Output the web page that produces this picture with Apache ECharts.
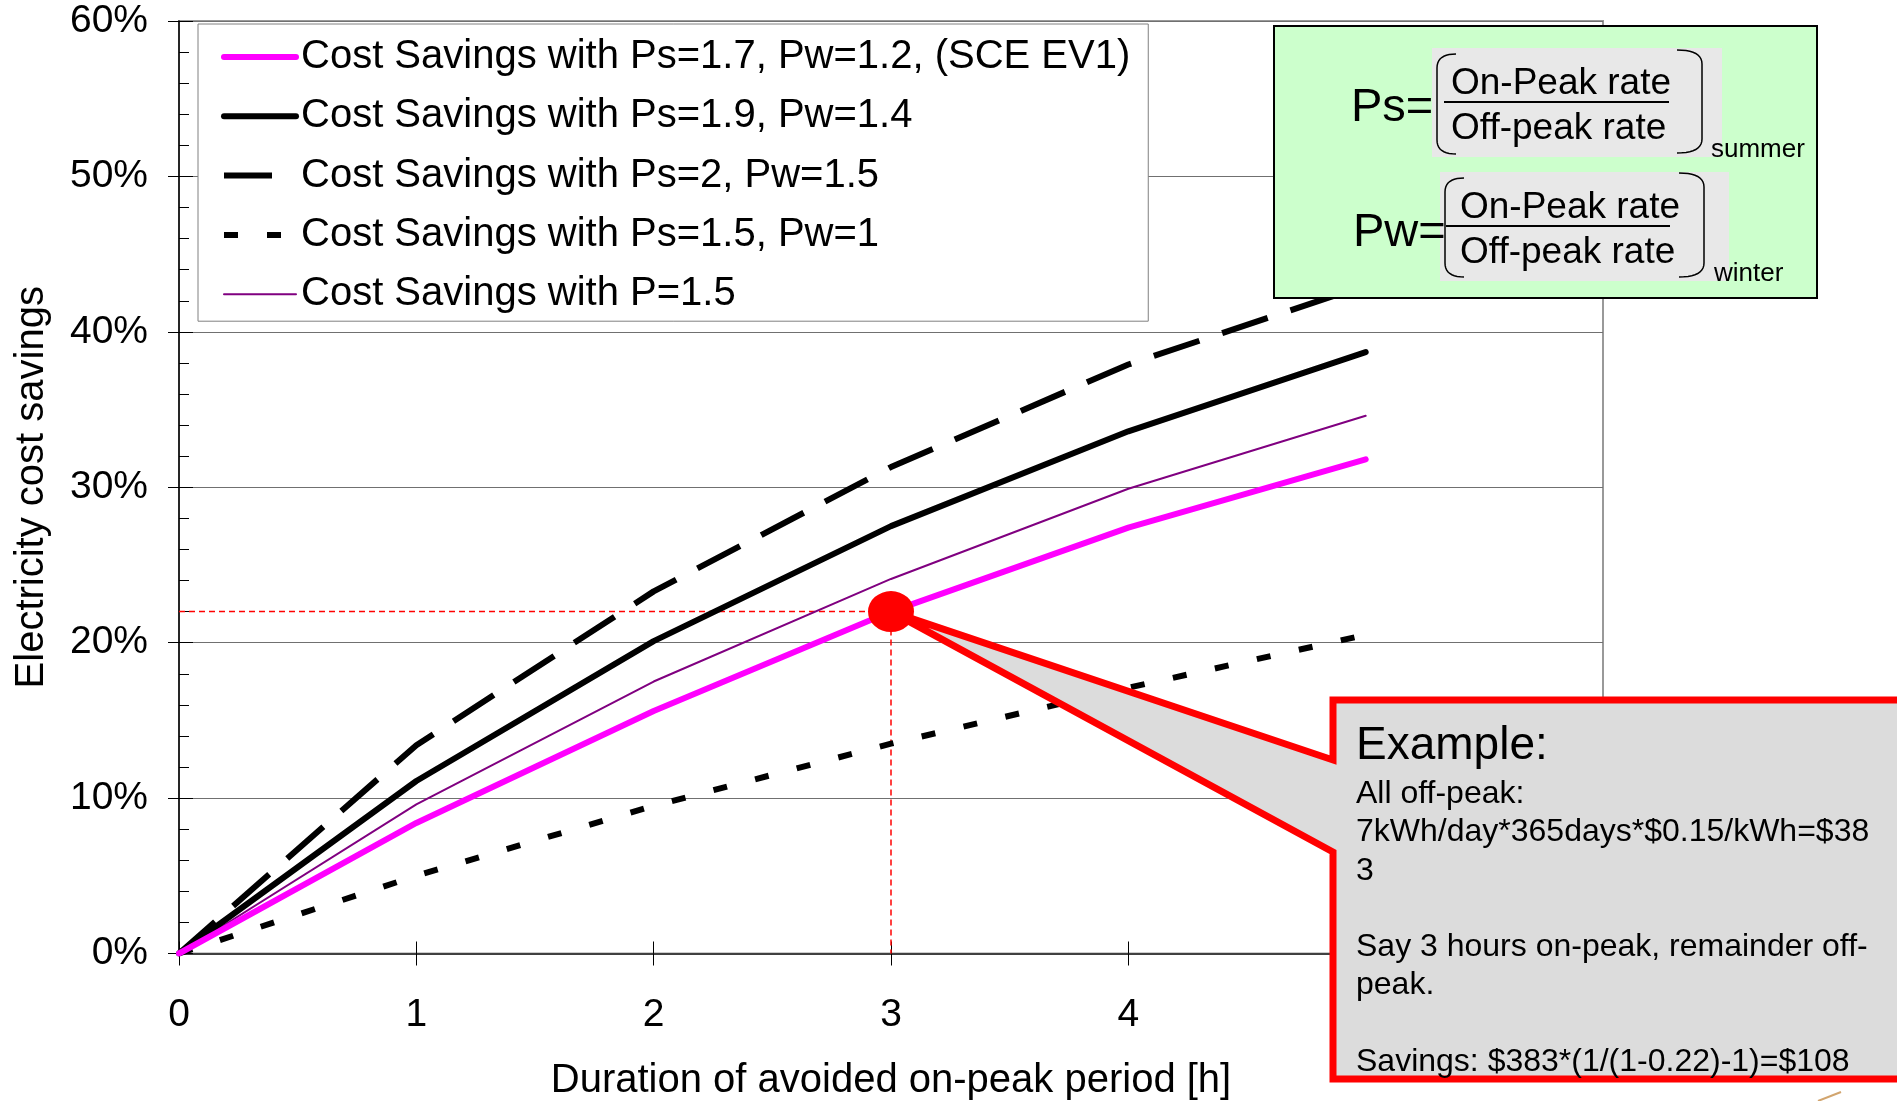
<!DOCTYPE html>
<html>
<head>
<meta charset="utf-8">
<script src="https://cdn.jsdelivr.net/npm/echarts@6/dist/echarts.min.js"></script>
<style>
  html, body { margin: 0; padding: 0; background: #fff; }
  #chart { width: 1897px; height: 1101px; }
</style>
</head>
<body>
<div id="chart"></div>
<script>
// Duration of avoided on-peak period [h]
const hours = [0, 1, 2, 3, 4, 5];

// Electricity cost savings [%] for each tariff ratio set
const savingsEV1 = [0, 8.4, 15.6, 22.0, 27.4, 31.8];   // Ps=1.7, Pw=1.2 (SCE EV1)
const savings19 = [0, 11.1, 20.1, 27.5, 33.6, 38.7];   // Ps=1.9, Pw=1.4
const savings20 = [0, 13.4, 23.3, 31.3, 37.9, 43.0];   // Ps=2, Pw=1.5
const savings15 = [0, 5.0, 9.5, 13.5, 17.1, 20.5];     // Ps=1.5, Pw=1
const savingsFlat = [0, 9.6, 17.5, 24.1, 29.9, 34.6];  // P=1.5

const seriesNames = [
  'Cost Savings with Ps=1.7, Pw=1.2, (SCE EV1)',
  'Cost Savings with Ps=1.9, Pw=1.4',
  'Cost Savings with Ps=2, Pw=1.5',
  'Cost Savings with Ps=1.5, Pw=1',
  'Cost Savings with P=1.5'
];

// Worked example: 3 hours avoided on SCE EV1 gives 22 % savings
const exampleHours = 3;
const exampleSaving = 22;

const xTicks = { min: 0, max: 6, step: 1 };
const yTicks = { min: 0, max: 60, step: 10 };

const FONT = '"Liberation Sans", Arial, sans-serif';

function pairs(values) {
  return hours.map((h, i) => [h, values[i]]);
}

function lineSeries(name, values, color, width, dash) {
  return {
    type: 'line',
    name: name,
    data: pairs(values),
    symbol: 'none',
    silent: true,
    z: 3,
    lineStyle: {
      color: color,
      width: width,
      type: dash || 'solid',
      cap: dash ? 'butt' : 'round',
      join: 'round'
    },
    itemStyle: { color: color }
  };
}

const chart = echarts.init(document.getElementById('chart'), null, { renderer: 'canvas' });

chart.setOption({
  animation: false,
  backgroundColor: '#ffffff',
  textStyle: { fontFamily: FONT },
  grid: {
    left: 179, right: 294, top: 21, bottom: 147.5,
    show: true, borderColor: '#999999', borderWidth: 2,
    backgroundColor: 'transparent',
    outerBoundsMode: 'none'
  },
  legend: {
    data: seriesNames,
    orient: 'vertical',
    left: 198, top: 24,
    padding: [11, 18, 5, 23],
    itemGap: 15.3,
    itemWidth: 72,
    itemHeight: 14,
    selectedMode: false,
    backgroundColor: '#ffffff',
    borderColor: '#808080',
    borderWidth: 1,
    lineStyle: { width: 'inherit' },
    itemStyle: { opacity: 0 },
    textStyle: { fontFamily: FONT, fontSize: 40, color: '#000', lineHeight: 44 }
  },
  xAxis: [
    {
      type: 'value', min: xTicks.min, max: xTicks.max, interval: xTicks.step,
      position: 'bottom',
      axisLine: { show: true, onZero: false, lineStyle: { color: '#404040', width: 2 } },
      axisTick: { show: true, inside: false, length: 12, lineStyle: { color: '#000', width: 1 } },
      axisLabel: { fontFamily: FONT, fontSize: 39, color: '#000', margin: 42 },
      splitLine: { show: false },
      name: 'Duration of avoided on-peak period [h]',
      nameLocation: 'middle', nameGap: 107,
      nameTextStyle: { fontFamily: FONT, fontSize: 40, color: '#000' }
    },
    {
      type: 'value', min: xTicks.min, max: xTicks.max, interval: xTicks.step,
      position: 'bottom',
      axisLine: { show: false, onZero: false },
      axisTick: { show: true, inside: true, length: 12, lineStyle: { color: '#000', width: 1 } },
      axisLabel: { show: false },
      splitLine: { show: false }
    }
  ],
  yAxis: [
    {
      type: 'value', min: yTicks.min, max: yTicks.max, interval: yTicks.step,
      position: 'left',
      axisLine: { show: true, onZero: false, lineStyle: { color: '#000', width: 1.5 } },
      axisTick: { show: true, inside: false, length: 11, lineStyle: { color: '#000', width: 1 } },
      axisLabel: {
        formatter: '{value}%', fontFamily: FONT, fontSize: 39, color: '#000', margin: 31,
        padding: [5, 0, 0, 0]
      },
      splitLine: { show: true, lineStyle: { color: '#707070', width: 1 } },
      name: 'Electricity cost savings',
      nameLocation: 'middle', nameGap: 127,
      nameTextStyle: { fontFamily: FONT, fontSize: 40, color: '#000' }
    },
    {
      type: 'value', min: yTicks.min, max: yTicks.max, interval: yTicks.step,
      position: 'left',
      axisLine: { show: false, onZero: false },
      axisTick: { show: true, inside: true, length: 14, lineStyle: { color: '#000', width: 1 } },
      minorTick: { show: true, splitNumber: 5, length: 10, lineStyle: { color: '#000', width: 1 } },
      axisLabel: { show: false },
      splitLine: { show: false }
    }
  ],
  series: [
    {
      type: 'line',
      name: 'guide',
      data: [[0, exampleSaving], [exampleHours, exampleSaving], [exampleHours, 0]],
      symbol: 'none',
      silent: true,
      z: 1,
      lineStyle: { color: '#ff0000', width: 1.5, type: [6, 4] }
    },
    lineSeries(seriesNames[3], savings15, '#000000', 6, [14, 29]),
    lineSeries(seriesNames[2], savings20, '#000000', 6, [48, 24]),
    lineSeries(seriesNames[4], savingsFlat, '#800080', 2),
    lineSeries(seriesNames[1], savings19, '#000000', 6),
    lineSeries(seriesNames[0], savingsEV1, '#ff00ff', 6),
    {
      type: 'scatter',
      name: 'example',
      data: [[exampleHours, exampleSaving]],
      symbol: 'circle',
      symbolSize: [46, 41],
      silent: true,
      z: 120,
      itemStyle: { color: '#ff0000', opacity: 1 }
    }
  ]
});

// Callout box and rate-ratio panel, anchored to the example point
const tip = chart.convertToPixel({ gridIndex: 0 }, [exampleHours, exampleSaving]);

const calloutText =
  'All off-peak:\n' +
  '7kWh/day*365days*$0.15/kWh=$38\n' +
  '3\n' +
  '\n' +
  'Say 3 hours on-peak, remainder off-\n' +
  'peak.\n' +
  '\n' +
  'Savings: $383*(1/(1-0.22)-1)=$108';

// Rounded bracket drawn as a polyline: hook, curve, vertical stroke, curve, hook
function bracket(x, top, bottom, hookX) {
  const r = 14;
  const pts = [];
  const quad = (p0, c, p1) => {
    for (let i = 0; i <= 10; i++) {
      const t = i / 10;
      const a = (1 - t) * (1 - t), b = 2 * (1 - t) * t, d = t * t;
      pts.push([a * p0[0] + b * c[0] + d * p1[0], a * p0[1] + b * c[1] + d * p1[1]]);
    }
  };
  quad([hookX, top], [x, top], [x, top + r]);
  quad([x, bottom - r], [x, bottom], [hookX, bottom]);
  return {
    type: 'polyline', z: 102,
    shape: { points: pts },
    style: { fill: null, stroke: '#000', lineWidth: 1.5 }
  };
}

function txt(text, x, y, size) {
  return {
    type: 'text', x: x, y: y, z: 102,
    style: {
      text: text, fontFamily: FONT, fontSize: size, fill: '#000',
      align: 'left', verticalAlign: 'middle'
    }
  };
}

chart.setOption({
  graphic: [
    // callout with pointer
    {
      type: 'polygon', z: 100,
      shape: {
        points: [
          [tip[0], tip[1]], [1333, 760], [1333, 700], [1910, 700],
          [1910, 1079], [1333, 1079], [1333, 852]
        ]
      },
      style: { fill: '#dcdcdc', stroke: '#ff0000', lineWidth: 7, lineJoin: 'miter' }
    },
    txt('Example:', 1356, 746, 46),
    {
      type: 'text', x: 1356, y: 775, z: 102,
      style: {
        text: calloutText, fontFamily: FONT, fontSize: 32, fill: '#000',
        lineHeight: 38.3, align: 'left', verticalAlign: 'top'
      }
    },
    // rate-ratio panel
    {
      type: 'rect', z: 100,
      shape: { x: 1274, y: 26, width: 543, height: 272 },
      style: { fill: '#ccffcc', stroke: '#000', lineWidth: 2 }
    },
    { type: 'rect', z: 101, shape: { x: 1432, y: 48, width: 290, height: 109 }, style: { fill: '#e8e8e8' } },
    { type: 'rect', z: 101, shape: { x: 1440, y: 172, width: 289, height: 109 }, style: { fill: '#e8e8e8' } },
    bracket(1437, 54, 154, 1456),
    bracket(1702, 50, 153, 1677),
    bracket(1445, 178, 277, 1464),
    bracket(1704, 173, 277, 1679),
    { type: 'line', z: 102, shape: { x1: 1444, y1: 102, x2: 1669, y2: 102 }, style: { stroke: '#000', lineWidth: 2 } },
    { type: 'line', z: 102, shape: { x1: 1446, y1: 226, x2: 1670, y2: 226 }, style: { stroke: '#000', lineWidth: 2 } },
    txt('Ps=', 1351, 108.5, 47),
    txt('On-Peak rate', 1451, 83.5, 37),
    txt('Off-peak rate', 1451, 128.5, 37),
    txt('summer', 1711, 150, 26),
    txt('Pw=', 1353, 233, 47),
    txt('On-Peak rate', 1460, 208, 37),
    txt('Off-peak rate', 1460, 253, 37),
    txt('winter', 1714, 274, 26),
    // small stroke at the lower right corner
    { type: 'line', z: 102, shape: { x1: 1818, y1: 1101, x2: 1841, y2: 1092 }, style: { stroke: '#d2a56e', lineWidth: 2 } }
  ]
});
</script>
</body>
</html>
